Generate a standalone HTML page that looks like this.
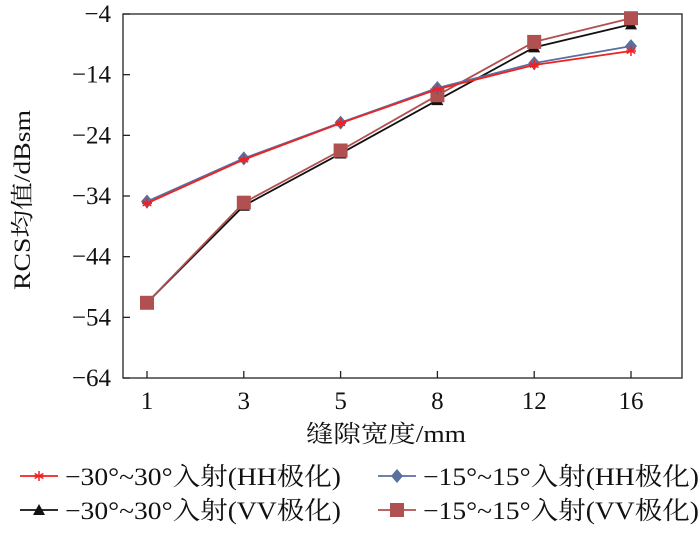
<!DOCTYPE html>
<html><head><meta charset="utf-8"><style>
body{margin:0;background:#fff}
svg text{font-family:"Liberation Serif","Noto Serif CJK SC",serif;fill:#111}
</style></head><body>
<svg id="chart" width="700" height="532" xmlns="http://www.w3.org/2000/svg">
<rect x="123" y="14" width="559" height="364" fill="none" stroke="#222" stroke-width="1.3"/>
<g id="axes"></g>
<g id="series"></g>
<text transform="translate(30,200) rotate(-90)" text-anchor="middle" font-size="23" textLength="180" lengthAdjust="spacingAndGlyphs">RCS均值/dBsm</text>
<text x="386" y="442" text-anchor="middle" font-size="24" textLength="160" lengthAdjust="spacingAndGlyphs">缝隙宽度/mm</text>
<g id="legend"></g>
</svg>
<script>
const categories=["1","3","5","8","12","16"];
const yTicks=[-4,-14,-24,-34,-44,-54,-64];
const hh30=[-35.2,-28,-22,-16.4,-12.4,-10.1];
const hh15=[-34.9,-27.8,-21.9,-16.2,-12.1,-9.3];
const vv30=[-51.6,-35.6,-27,-18.2,-9.5,-5.7];
const vv15=[-51.6,-35.1,-26.5,-17.4,-8.6,-4.7];
const labels=["−30°~30°入射(HH极化)","−15°~15°入射(HH极化)","−30°~30°入射(VV极化)","−15°~15°入射(VV极化)"];
const NS="http://www.w3.org/2000/svg";
const x=i=>147+i*96.8;
const y=v=>14+(-4-v)*6.067;
function mk(tag,attrs,parent){const e=document.createElementNS(NS,tag);for(const k in attrs)e.setAttribute(k,attrs[k]);parent.appendChild(e);return e;}
const ax=document.getElementById('axes');
yTicks.forEach(t=>{
 const l=mk('line',{x1:123,x2:130,y1:y(t),y2:y(t),stroke:'#222','stroke-width':1.3},ax);
 
 
 const tx=mk('text',{x:111,y:y(t)+8,'text-anchor':'end','font-size':25},ax);tx.textContent=t<0?'−'+(-t):t;
 
 
});
categories.forEach((c,i)=>{
 const l=mk('line',{x1:x(i),x2:x(i),y1:371,y2:378,stroke:'#222','stroke-width':1.3},ax);
 
 
 const tx=mk('text',{x:x(i),y:409,'text-anchor':'middle','font-size':25},ax);tx.textContent=c;
 
 
});
function marker(type,cx,cy,color,g){
 if(type==='star'){for(let a=0;a<3;a++){const an=a*Math.PI/3+Math.PI/2;mk('line',{x1:cx-5*Math.cos(an),y1:cy-5*Math.sin(an),x2:cx+5*Math.cos(an),y2:cy+5*Math.sin(an),stroke:color,'stroke-width':1.5},g);}mk('line',{x1:cx-5,x2:cx+5,y1:cy,y2:cy,stroke:color,'stroke-width':1.5},g);}
 else if(type==='diamond')mk('polygon',{points:`${cx},${cy-7} ${cx+6},${cy} ${cx},${cy+7} ${cx-6},${cy}`,fill:color},g);
 else if(type==='tri')mk('polygon',{points:`${cx},${cy-6} ${cx+6},${cy+5} ${cx-6},${cy+5}`,fill:color},g);
 else mk('rect',{x:cx-7,y:cy-7,width:14,height:14,fill:color},g);
}
const ser=[[vv30,'#111','tri','series-vv-30'],[vv15,'#b05050','sq','series-vv-15'],[hh15,'#5a6fa0','diamond','series-hh-15'],[hh30,'#ee2222','star','series-hh-30']];
const sg=document.getElementById('series');
ser.forEach(([d,c,m,n])=>{
 const g=mk('g',{},sg);
 
 
 mk('polyline',{points:d.map((v,i)=>x(i)+','+y(v)).join(' '),fill:'none',stroke:c,'stroke-width':1.8},g);
 d.forEach((v,i)=>marker(m,x(i),y(v),c,g));
});
const lg=document.getElementById('legend');
const leg=[[20,476,'#ee2222','star'],[378,476,'#5a6fa0','diamond'],[20,510,'#111','tri'],[378,510,'#b05050','sq']];
leg.forEach(([lx,ly,c,m],i)=>{
 const g=mk('g',{},lg);
 
 
 mk('line',{x1:lx,x2:lx+38,y1:ly,y2:ly,stroke:c,'stroke-width':1.8},g);
 marker(m,lx+19,ly,c,g);
 const t=mk('text',{x:lx+45,y:ly+9,'font-size':25,textLength:276,lengthAdjust:'spacingAndGlyphs'},g);t.textContent=labels[i];
});
</script>
</body></html>
